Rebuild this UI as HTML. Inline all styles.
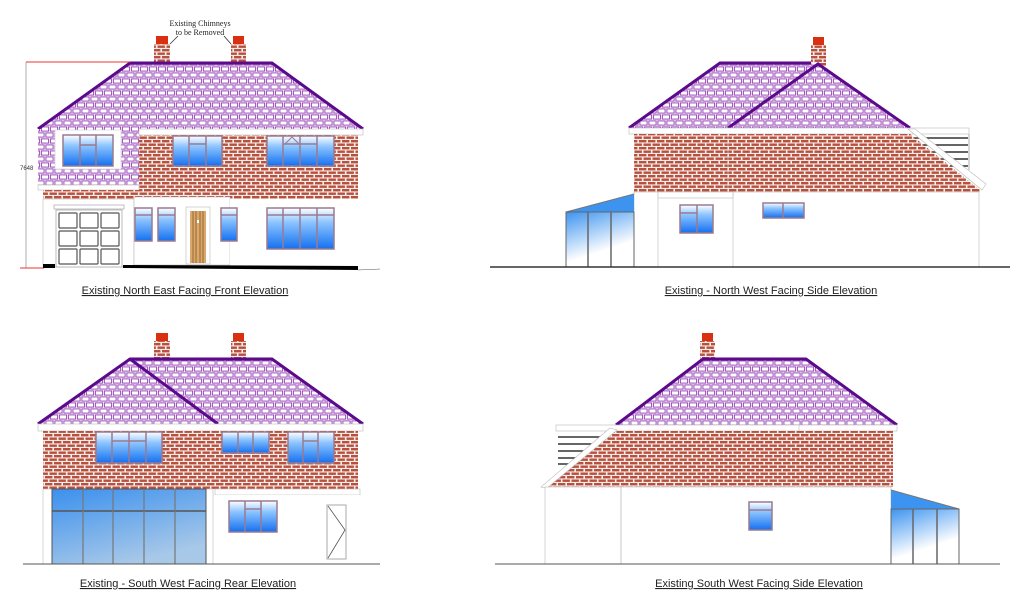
<!DOCTYPE html>
<html><head><meta charset="utf-8"><style>
html,body{margin:0;padding:0;background:#fff;}
svg{display:block;}
.cap{font-family:"Liberation Sans",sans-serif;font-size:11px;fill:#222;text-decoration:underline;}
</style></head><body>
<svg width="1024" height="597" viewBox="0 0 1024 597" xmlns="http://www.w3.org/2000/svg">
<defs>
<pattern id="tile" width="9" height="12" patternUnits="userSpaceOnUse">
<rect width="9" height="12" fill="#fff"/>
<rect x="0.9" y="0.9" width="7.2" height="4.2" fill="none" stroke="#9a4ab8" stroke-width="1"/>
<rect x="-3.6" y="6.9" width="7.2" height="4.2" fill="none" stroke="#9a4ab8" stroke-width="1"/>
<rect x="5.4" y="6.9" width="7.2" height="4.2" fill="none" stroke="#9a4ab8" stroke-width="1"/>
</pattern>
<pattern id="brick" width="9" height="7" patternUnits="userSpaceOnUse">
<rect width="9" height="7" fill="#f6ecea"/>
<rect x="0" y="0" width="7.4" height="2.4" fill="#b8503e"/>
<rect x="-4.5" y="3.5" width="7.4" height="2.4" fill="#b8503e"/>
<rect x="4.5" y="3.5" width="7.4" height="2.4" fill="#b8503e"/>
</pattern>
<linearGradient id="glass" x1="0" y1="0" x2="0" y2="1">
<stop offset="0" stop-color="#ffffff"/><stop offset="0.35" stop-color="#8cc4ff"/><stop offset="1" stop-color="#1470f0"/>
</linearGradient>
<linearGradient id="cons" x1="0" y1="0" x2="0.4" y2="1">
<stop offset="0" stop-color="#3d94f0"/><stop offset="0.8" stop-color="#ffffff"/>
</linearGradient>
<linearGradient id="big" x1="0" y1="0" x2="0.5" y2="1">
<stop offset="0" stop-color="#3a90ee"/><stop offset="1" stop-color="#a8c8e8"/>
</linearGradient>
</defs>

<!-- ============ NE FRONT (top-left) ============ -->
<g>
<rect x="154" y="44" width="16" height="20" fill="url(#brick)"/>
<rect x="156" y="36" width="12" height="8" fill="#d83010"/>
<rect x="231" y="44" width="15" height="20" fill="url(#brick)"/>
<rect x="233" y="36" width="11" height="8" fill="#d83010"/>
<line x1="170" y1="44" x2="178" y2="36" stroke="#333" stroke-width="0.8"/>
<line x1="231" y1="44" x2="224" y2="36" stroke="#333" stroke-width="0.8"/>
<text x="200" y="26" font-family="Liberation Serif,serif" font-size="8" text-anchor="middle" fill="#222">Existing Chimneys</text>
<text x="200" y="35" font-family="Liberation Serif,serif" font-size="8" text-anchor="middle" fill="#222">to be Removed</text>
<polygon points="130,63 272,63 363,129 38,129" fill="url(#tile)"/>
<polyline points="38,129 130,63 272,63 363,129" fill="none" stroke="#5a0a8a" stroke-width="3"/>
<line x1="26" y1="62" x2="130" y2="62" stroke="#e33" stroke-width="1"/>
<line x1="26" y1="62" x2="26" y2="268" stroke="#999" stroke-width="0.8"/>
<line x1="20" y1="268" x2="44" y2="268" stroke="#e33" stroke-width="1"/>
<text x="20" y="170" font-family="Liberation Sans,sans-serif" font-size="6" fill="#333">7648</text>
<rect x="38" y="129" width="101" height="57" fill="url(#tile)"/>
<rect x="55" y="130" width="66" height="39" fill="#fff" stroke="#ccc" stroke-width="0.6"/>
<rect x="63" y="135" width="50" height="31" fill="url(#glass)" stroke="#9a7a90" stroke-width="1.5"/>
<line x1="80" y1="135" x2="80" y2="166" stroke="#9a7a90" stroke-width="1.5"/>
<line x1="96" y1="135" x2="96" y2="166" stroke="#9a7a90" stroke-width="1.5"/>
<line x1="80" y1="145" x2="96" y2="145" stroke="#9a7a90" stroke-width="1.5"/>
<rect x="139" y="129" width="224" height="6" fill="#fff" stroke="#bbb" stroke-width="0.6"/>
<rect x="139" y="135" width="219" height="64" fill="url(#brick)"/>
<rect x="38" y="185" width="101" height="5" fill="#fff" stroke="#bbb" stroke-width="0.6"/>
<rect x="43" y="190" width="96" height="9" fill="url(#brick)"/>
<rect x="173" y="136" width="49" height="30" fill="url(#glass)" stroke="#9a7a90" stroke-width="1.5"/>
<line x1="189" y1="136" x2="189" y2="166" stroke="#9a7a90" stroke-width="1.5"/>
<line x1="206" y1="136" x2="206" y2="166" stroke="#9a7a90" stroke-width="1.5"/>
<line x1="189" y1="144" x2="206" y2="144" stroke="#9a7a90" stroke-width="1.5"/>
<rect x="267" y="136" width="67" height="30" fill="url(#glass)" stroke="#9a7a90" stroke-width="1.5"/>
<line x1="283" y1="136" x2="283" y2="166" stroke="#9a7a90" stroke-width="1.5"/>
<line x1="300" y1="136" x2="300" y2="166" stroke="#9a7a90" stroke-width="1.5"/>
<line x1="317" y1="136" x2="317" y2="166" stroke="#9a7a90" stroke-width="1.5"/>
<line x1="283" y1="144" x2="317" y2="144" stroke="#9a7a90" stroke-width="1.5"/>
<polyline points="285,144 292,137 299,144" fill="none" stroke="#9a7a90" stroke-width="1"/>
<rect x="43" y="199" width="91" height="68" fill="#fff" stroke="#bbb" stroke-width="0.6"/>
<rect x="134" y="197" width="96" height="68" fill="#fff" stroke="#bbb" stroke-width="0.6"/>
<rect x="230" y="199" width="128" height="66" fill="#fff"/>
<rect x="54" y="205" width="70" height="4" fill="#fff" stroke="#999" stroke-width="0.6"/>
<rect x="56" y="210" width="66" height="57" fill="#fff" stroke="#aaa" stroke-width="0.8"/>
<g fill="#fff" stroke="#555" stroke-width="1.2">
<rect x="59" y="213" width="18" height="15" rx="1"/><rect x="80" y="213" width="18" height="15" rx="1"/><rect x="101" y="213" width="18" height="15" rx="1"/>
<rect x="59" y="231" width="18" height="15" rx="1"/><rect x="80" y="231" width="18" height="15" rx="1"/><rect x="101" y="231" width="18" height="15" rx="1"/>
<rect x="59" y="249" width="18" height="15" rx="1"/><rect x="80" y="249" width="18" height="15" rx="1"/><rect x="101" y="249" width="18" height="15" rx="1"/>
</g>
<g stroke="#9a7a90" stroke-width="1.5">
<rect x="135" y="208" width="17" height="33" fill="url(#glass)"/><line x1="135" y1="215" x2="152" y2="215"/>
<rect x="158" y="208" width="17" height="33" fill="url(#glass)"/><line x1="158" y1="215" x2="175" y2="215"/>
<rect x="221" y="208" width="16" height="33" fill="url(#glass)"/><line x1="221" y1="215" x2="237" y2="215"/>
<rect x="267" y="208" width="67" height="41" fill="url(#glass)"/>
<line x1="267" y1="215" x2="334" y2="215"/>
<line x1="283" y1="208" x2="283" y2="249"/><line x1="300" y1="208" x2="300" y2="249"/><line x1="317" y1="208" x2="317" y2="249"/>
</g>
<rect x="186" y="207" width="24" height="57" fill="#fff" stroke="#ccc" stroke-width="0.8"/>
<rect x="190" y="211" width="16" height="52" fill="#d9a86a"/>
<g stroke="#8a5a2a" stroke-width="0.8"><line x1="193" y1="211" x2="193" y2="263"/><line x1="196" y1="211" x2="196" y2="263"/><line x1="200" y1="211" x2="200" y2="263"/><line x1="203" y1="211" x2="203" y2="263"/></g>
<rect x="197" y="220" width="2" height="3" fill="#fff"/>
<rect x="43" y="264" width="12" height="4" fill="#000"/>
<polygon points="123,265 358,266 358,270 123,268" fill="#000"/>
<line x1="358" y1="270" x2="380" y2="269" stroke="#555" stroke-width="0.6"/>
<text x="185" y="294" class="cap" text-anchor="middle">Existing North East Facing Front Elevation</text>
</g>

<!-- ============ NW SIDE (top-right) ============ -->
<g>
<rect x="811" y="45" width="15" height="21" fill="url(#brick)"/>
<rect x="813" y="37" width="11" height="8" fill="#d83010"/>
<polygon points="629,128 720,63 817,63 818,64 910,128" fill="url(#tile)"/>
<polyline points="629,128 720,63 811,63" fill="none" stroke="#5a0a8a" stroke-width="3"/>
<polyline points="728,128 818,64 910,128" fill="none" stroke="#5a0a8a" stroke-width="3"/>
<g stroke="#333" stroke-width="1.5">
<line x1="912" y1="138" x2="968" y2="138"/><line x1="922" y1="145" x2="968" y2="145"/><line x1="930" y1="152" x2="968" y2="152"/><line x1="940" y1="159" x2="968" y2="159"/><line x1="950" y1="166" x2="968" y2="166"/>
</g>
<line x1="969" y1="134" x2="969" y2="170" stroke="#999" stroke-width="0.8"/>
<rect x="629" y="128" width="340" height="6" fill="#fff" stroke="#bbb" stroke-width="0.6"/>
<polygon points="634,134 910,134 980,190 980,192 634,192" fill="url(#brick)"/>
<polygon points="908,129 915,129 986,184 982,190" fill="#fff" stroke="#bbb" stroke-width="0.6"/>
<line x1="728" y1="134" x2="728" y2="192" stroke="#ddd" stroke-width="0.6"/>
<rect x="634" y="192" width="345" height="75" fill="#fff" stroke="#bbb" stroke-width="0.6"/>
<rect x="658" y="192" width="75" height="75" fill="#fff" stroke="#bbb" stroke-width="0.6"/>
<rect x="658" y="192" width="75" height="6" fill="#fff" stroke="#bbb" stroke-width="0.6"/>
<g stroke="#9a7a90" stroke-width="1.5">
<rect x="680" y="205" width="33" height="28" fill="url(#glass)"/><line x1="697" y1="205" x2="697" y2="233"/><line x1="680" y1="213" x2="697" y2="213"/>
<rect x="763" y="203" width="41" height="15" fill="url(#glass)"/><line x1="783" y1="203" x2="783" y2="218"/>
</g>
<polygon points="566,212 634,194 634,212" fill="#3d94f0"/>
<line x1="566" y1="212" x2="634" y2="194" stroke="#777" stroke-width="1"/>
<rect x="566" y="212" width="68" height="55" fill="url(#cons)" stroke="#666" stroke-width="1"/>
<line x1="588" y1="212" x2="588" y2="267" stroke="#666" stroke-width="1.5"/>
<line x1="611" y1="212" x2="611" y2="267" stroke="#666" stroke-width="1.5"/>
<line x1="490" y1="267" x2="1010" y2="267" stroke="#333" stroke-width="1.5"/>
<text x="771" y="294" class="cap" text-anchor="middle">Existing - North West Facing Side Elevation</text>
</g>

<!-- ============ SW REAR (bottom-left) ============ -->
<g>
<rect x="154" y="341" width="16" height="21" fill="url(#brick)"/>
<rect x="156" y="333" width="12" height="8" fill="#d83010"/>
<rect x="231" y="341" width="15" height="21" fill="url(#brick)"/>
<rect x="233" y="333" width="11" height="8" fill="#d83010"/>
<polygon points="130,359 272,359 363,424 38,424" fill="url(#tile)"/>
<polyline points="38,424 130,359 272,359 363,424" fill="none" stroke="#5a0a8a" stroke-width="3"/>
<line x1="130" y1="359" x2="218" y2="424" stroke="#5a0a8a" stroke-width="3"/>
<rect x="38" y="424" width="325" height="7" fill="#fff" stroke="#bbb" stroke-width="0.6"/>
<rect x="43" y="431" width="315" height="58" fill="url(#brick)"/>
<g stroke="#9a7a90" stroke-width="1.5">
<rect x="96" y="432" width="66" height="31" fill="url(#glass)"/><line x1="112" y1="432" x2="112" y2="463"/><line x1="129" y1="432" x2="129" y2="463"/><line x1="146" y1="432" x2="146" y2="463"/><line x1="112" y1="441" x2="146" y2="441"/>
<rect x="222" y="432" width="47" height="21" fill="url(#glass)"/><line x1="238" y1="432" x2="238" y2="453"/><line x1="253" y1="432" x2="253" y2="453"/>
<rect x="288" y="432" width="46" height="31" fill="url(#glass)"/><line x1="303" y1="432" x2="303" y2="463"/><line x1="318" y1="432" x2="318" y2="463"/><line x1="303" y1="441" x2="318" y2="441"/>
</g>
<rect x="43" y="489" width="170" height="75" fill="#fff" stroke="#bbb" stroke-width="0.6"/>
<rect x="215" y="489" width="145" height="6" fill="#fff" stroke="#bbb" stroke-width="0.6"/>
<rect x="215" y="495" width="145" height="69" fill="#fff"/>
<rect x="52" y="489" width="154" height="75" fill="url(#big)" stroke="#555" stroke-width="1"/>
<line x1="52" y1="511" x2="206" y2="511" stroke="#555" stroke-width="1.5"/>
<g stroke="#777" stroke-width="1.2"><line x1="83" y1="489" x2="83" y2="564"/><line x1="113" y1="489" x2="113" y2="564"/><line x1="144" y1="489" x2="144" y2="564"/><line x1="175" y1="489" x2="175" y2="564"/></g>
<g stroke="#9a7a90" stroke-width="1.5">
<rect x="229" y="501" width="48" height="31" fill="url(#glass)"/><line x1="245" y1="501" x2="245" y2="532"/><line x1="261" y1="501" x2="261" y2="532"/><line x1="245" y1="509" x2="261" y2="509"/>
</g>
<rect x="327" y="505" width="19" height="54" fill="#fff" stroke="#aaa" stroke-width="1"/>
<polyline points="328,506 345,530 328,558" fill="none" stroke="#555" stroke-width="0.8"/>
<line x1="23" y1="564" x2="380" y2="564" stroke="#555" stroke-width="1"/>
<text x="188" y="587" class="cap" text-anchor="middle">Existing - South West Facing Rear Elevation</text>
</g>

<!-- ============ SW SIDE (bottom-right) ============ -->
<g>
<rect x="700" y="341" width="15" height="20" fill="url(#brick)"/>
<rect x="702" y="333" width="11" height="8" fill="#d83010"/>
<polygon points="616,425 703,359 806,359 897,425" fill="url(#tile)"/>
<polyline points="616,425 703,359 806,359 897,425" fill="none" stroke="#5a0a8a" stroke-width="3"/>
<g stroke="#333" stroke-width="1.5">
<line x1="558" y1="437" x2="610" y2="437"/><line x1="558" y1="444" x2="600" y2="444"/><line x1="558" y1="451" x2="590" y2="451"/><line x1="558" y1="458" x2="582" y2="458"/><line x1="558" y1="464" x2="574" y2="464"/>
</g>
<rect x="556" y="425" width="341" height="6" fill="#fff" stroke="#bbb" stroke-width="0.6"/>
<polygon points="612,431 893,431 893,487 545,487" fill="url(#brick)"/>
<polygon points="610,428 617,430 547,488 541,487" fill="#fff" stroke="#bbb" stroke-width="0.6"/>
<line x1="799" y1="425" x2="799" y2="431" stroke="#bbb" stroke-width="0.6"/>
<rect x="545" y="487" width="346" height="77" fill="#fff" stroke="#bbb" stroke-width="0.6"/>
<line x1="621" y1="487" x2="621" y2="564" stroke="#bbb" stroke-width="0.8"/>
<rect x="749" y="502" width="23" height="28" fill="url(#glass)" stroke="#9a7a90" stroke-width="1.5"/>
<line x1="749" y1="510" x2="772" y2="510" stroke="#9a7a90" stroke-width="1.5"/>
<polygon points="891,490 959,509 891,509" fill="#3d94f0"/>
<line x1="891" y1="490" x2="959" y2="509" stroke="#777" stroke-width="1"/>
<rect x="891" y="509" width="68" height="55" fill="url(#cons)" stroke="#666" stroke-width="1"/>
<line x1="913" y1="509" x2="913" y2="564" stroke="#666" stroke-width="1.5"/>
<line x1="937" y1="509" x2="937" y2="564" stroke="#666" stroke-width="1.5"/>
<line x1="495" y1="564" x2="1000" y2="564" stroke="#555" stroke-width="1"/>
<text x="759" y="587" class="cap" text-anchor="middle">Existing South West Facing Side Elevation</text>
</g>
</svg>
</body></html>
